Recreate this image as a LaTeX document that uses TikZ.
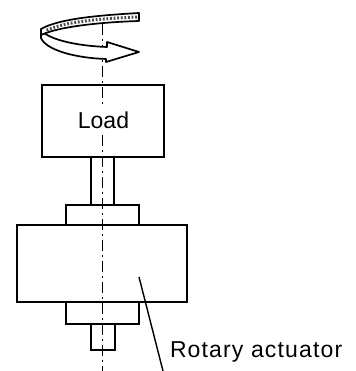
\documentclass[tikz,border=0pt]{standalone}
\usepackage{fontspec}
\setmainfont{Liberation Sans}
\tikzset{
  part/.style={draw=black,line width=1.5pt,fill=white,inner sep=0pt,outer sep=0pt},
  axisline/.style={draw=black,line width=1.4pt,dash pattern=on 11pt off 4pt on 2pt off 4pt},
  label/.style={inner sep=0pt,outer sep=0pt,text=black,font=\fontsize{23}{26}\selectfont}
}
\begin{document}
\begin{tikzpicture}[x=1pt,y=-1pt]
\useasboundingbox (0,0) rectangle (355,371);
\fill[white] (0,0) rectangle (355,371);
\coordinate (axtop) at (102.5,24);
\coordinate (axload) at (102.5,106);
\coordinate (axlow) at (102.5,135);
\coordinate (axend) at (102.5,371);
\draw[part] (91,157) rectangle (114,205);
\draw[part] (91,324) rectangle (115,350);
\draw[part] (66,205) rectangle (139,225);
\draw[part] (66,302) rectangle (139,324);
\draw[part] (17,225) rectangle (187,302);
\draw[part] (42,85) rectangle (164,157);
\node[label,anchor=base] (load) at (103.5,129) {Load};
\node[label,anchor=base west] (actuator) at (170,357) {\addfontfeatures{LetterSpace=5}Rotary actuator};
\draw[axisline] (axtop) -- (axload);
\draw[axisline] (axlow) -- (axend);
\coordinate (leaderstart) at (139,277);
\coordinate (leaderend) at (163,371);
\draw[line width=1.4pt] (leaderstart) -- (leaderend);
\draw[line width=1.7pt,fill=white,line join=round]
  (41,32) -- (41,38) .. controls (46,50) and (75,58) .. (106,59)
  -- (106,62) -- (139,52) -- (107,42) -- (107,47)
  .. controls (80,46) and (55,41) .. (44,33) -- cycle;
\draw[line width=1.7pt,fill=white,line join=round]
  (139,13) .. controls (105,15) and (60,18) .. (41,29) -- (41,35)
  .. controls (60,26) and (105,22) .. (139,21) -- cycle;
\draw[line width=3pt,dash pattern=on 1.8pt off 1.8pt,black!70]
  (137,17) .. controls (105,18.5) and (65,21) .. (45,31);
\end{tikzpicture}
\end{document}
